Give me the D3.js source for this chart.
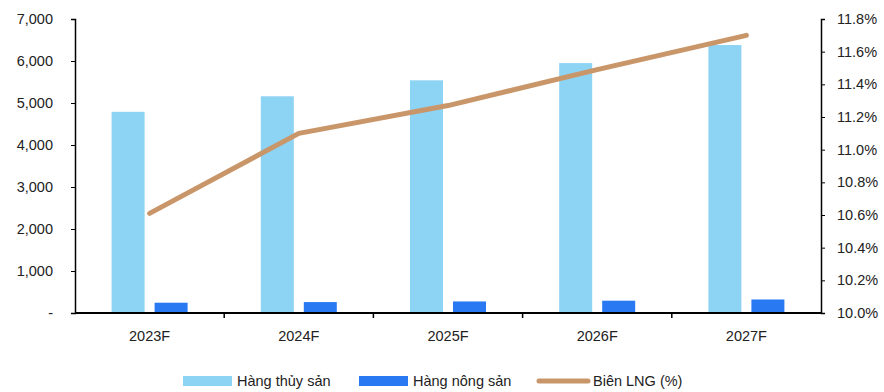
<!DOCTYPE html>
<html>
<head>
<meta charset="utf-8">
<script src="https://cdn.jsdelivr.net/npm/d3@7/dist/d3.min.js"></script>
<style>
  body { margin: 0; background: #fff; }
  svg { display: block; font-family: "Liberation Sans", Arial, sans-serif; }
  .axis text { font-size: 14.5px; fill: #222; }
  .axis path, .axis line { stroke: #000; }
</style>
</head>
<body>
<svg id="chart" width="884" height="392"></svg>
<script>
// Forecast years
const categories = ["2023F", "2024F", "2025F", "2026F", "2027F"];
// Seafood revenue (left axis)
const seafood = [4790, 5160, 5540, 5950, 6380];
// Agricultural revenue (left axis)
const agri = [245, 260, 275, 293, 322];
// Net profit margin, % (right axis)
const margin = [10.61, 11.10, 11.27, 11.49, 11.70];
const leftTicks = [0, 1000, 2000, 3000, 4000, 5000, 6000, 7000];
const rightTicks = [10.0, 10.2, 10.4, 10.6, 10.8, 11.0, 11.2, 11.4, 11.6, 11.8];
const seriesNames = ["Hàng thủy sản", "Hàng nông sản", "Biên LNG (%)"];

const colors = { seafood: "#8dd3f4", agri: "#2979f2", margin: "#c9966a" };

const svg = d3.select("#chart");
const m = { left: 75, right: 63, top: 19, bottom: 79 };
const W = 884, H = 392;

const x = d3.scaleBand().domain(categories).range([m.left, W - m.right]);
const yL = d3.scaleLinear().domain([0, 7000]).range([H - m.bottom, m.top]);
const yR = d3.scaleLinear().domain([10.0, 11.8]).range([H - m.bottom, m.top]);

const barW = 33, off = 21.5;

// Bars
svg.append("g").selectAll("rect").data(seafood).join("rect")
  .attr("x", (d, i) => x(categories[i]) + x.bandwidth() / 2 - off - barW / 2)
  .attr("y", d => yL(d))
  .attr("width", barW)
  .attr("height", d => yL(0) - yL(d))
  .attr("fill", colors.seafood);

svg.append("g").selectAll("rect").data(agri).join("rect")
  .attr("x", (d, i) => x(categories[i]) + x.bandwidth() / 2 + off - barW / 2)
  .attr("y", d => yL(d))
  .attr("width", barW)
  .attr("height", d => yL(0) - yL(d))
  .attr("fill", colors.agri);

// Left axis
const fmt = d3.format(",");
const gL = svg.append("g").attr("class", "axis")
  .attr("transform", `translate(${m.left},0)`)
  .call(d3.axisLeft(yL).tickValues(leftTicks).tickSize(4).tickPadding(18)
    .tickFormat(d => d === 0 ? "-" : fmt(d)));
gL.select(".domain").attr("stroke-width", 1.5);

// Right axis
const gR = svg.append("g").attr("class", "axis")
  .attr("transform", `translate(${W - m.right},0)`)
  .call(d3.axisRight(yR).tickValues(rightTicks).tickSize(4).tickPadding(12)
    .tickFormat(d => d.toFixed(1) + "%"));
gR.select(".domain").attr("stroke-width", 1.5);

// Bottom axis: ticks at category boundaries
const gB = svg.append("g").attr("class", "axis")
  .attr("transform", `translate(0,${yL(0)})`);
gB.append("line").attr("x1", m.left).attr("x2", W - m.right)
  .attr("stroke", "#000").attr("stroke-width", 2);
gB.selectAll("line.tk").data(categories.slice(1)).join("line").attr("class", "tk")
  .attr("x1", d => x(d)).attr("x2", d => x(d))
  .attr("y1", 0).attr("y2", 5).attr("stroke", "#000").attr("stroke-width", 1.5);
gB.selectAll("text").data(categories).join("text")
  .attr("x", d => x(d) + x.bandwidth() / 2)
  .attr("y", 28)
  .attr("text-anchor", "middle")
  .text(d => d);

// Margin line
const line = d3.line()
  .x((d, i) => x(categories[i]) + x.bandwidth() / 2)
  .y(d => yR(d));
svg.append("path").datum(margin)
  .attr("d", line)
  .attr("fill", "none")
  .attr("stroke", colors.margin)
  .attr("stroke-width", 5)
  .attr("stroke-linecap", "round")
  .attr("stroke-linejoin", "round");

// Legend
const lg = svg.append("g").attr("font-size", 14.5).attr("fill", "#222");
const ly = 381;
lg.append("rect").attr("x", 183).attr("y", ly - 5).attr("width", 49).attr("height", 10).attr("fill", colors.seafood);
lg.append("text").attr("x", 237).attr("y", ly + 5).text(seriesNames[0]);
lg.append("rect").attr("x", 359).attr("y", ly - 5).attr("width", 49).attr("height", 10).attr("fill", colors.agri);
lg.append("text").attr("x", 413).attr("y", ly + 5).text(seriesNames[1]);
lg.append("line").attr("x1", 539).attr("x2", 588).attr("y1", ly).attr("y2", ly)
  .attr("stroke", colors.margin).attr("stroke-width", 5).attr("stroke-linecap", "round");
lg.append("text").attr("x", 593).attr("y", ly + 5).text(seriesNames[2]);
</script>
</body>
</html>
